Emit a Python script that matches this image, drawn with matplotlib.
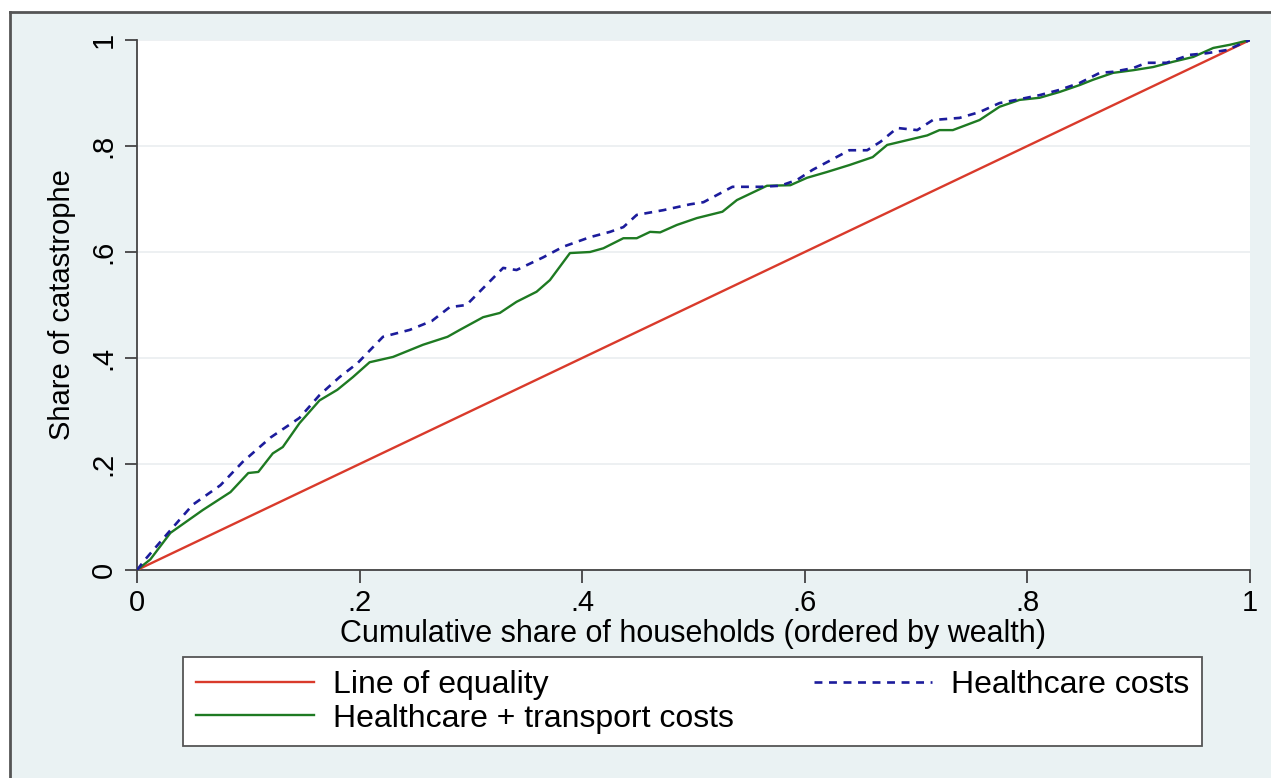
import numpy as np
import matplotlib.pyplot as plt
from matplotlib.lines import Line2D
from matplotlib.patches import Rectangle

plt.rcParams['font.family'] = ['Liberation Sans', 'DejaVu Sans']

# cumulative share of households (x) and share of catastrophe (y)
eq_x = [0, 1]
eq_y = [0, 1]

hc_x = [0, .007, .03, .05, .075, .095, .12, .146, .164, .182, .198, .221, .245, .265,
        .281, .296, .329, .341, .365, .383, .407, .425, .437, .449, .473, .497, .509,
        .535, .56, .578, .593, .607, .632, .64, .656, .668, .683, .701, .715, .739,
        .757, .775, .79, .811, .829, .847, .865, .877, .895, .907, .925, .946, .961,
        .979, 1]
hc_y = [0, .019, .075, .123, .16, .204, .25, .287, .33, .364, .39, .44, .453, .47,
        .496, .5, .57, .566, .59, .61, .628, .638, .647, .67, .679, .69, .694,
        .723, .723, .725, .736, .755, .783, .792, .792, .808, .834, .83, .849, .853,
        .864, .881, .887, .896, .906, .919, .938, .94, .947, .957, .957, .972, .975,
        .981, 1]

hct_x = [0, .012, .03, .059, .084, .1, .109, .122, .131, .146, .164, .18, .194, .209,
         .23, .257, .279, .29, .311, .326, .341, .359, .371, .389, .407, .419, .437,
         .449, .461, .47, .485, .503, .526, .539, .566, .587, .602, .62, .64, .661,
         .674, .692, .71, .721, .733, .757, .775, .793, .811, .829, .847, .859, .877,
         .895, .913, .931, .949, .967, .982, 1]
hct_y = [0, .02, .07, .113, .147, .183, .185, .22, .232, .277, .32, .34, .364, .392,
         .402, .425, .44, .453, .477, .485, .506, .525, .547, .598, .6, .607, .626,
         .626, .638, .637, .651, .664, .676, .698, .725, .726, .74, .751, .764, .779,
         .802, .811, .82, .83, .83, .849, .874, .887, .891, .902, .915, .925, .938,
         .943, .949, .959, .968, .985, .991, 1]

ticks = [0, .2, .4, .6, .8, 1]
tick_labels = ['0', '.2', '.4', '.6', '.8', '1']

W, H = 1271, 778
fig = plt.figure(figsize=(W / 100, H / 100), dpi=100, facecolor='white')

# stata-like graph region with left/top border
fig.patches.append(Rectangle((10 / W, 0), 1, 1 - 12 / H, transform=fig.transFigure,
                             facecolor='#eaf2f3', edgecolor='none', zorder=-10))
fig.lines.append(Line2D([10 / W, 10 / W], [0, 1 - 12 / H], transform=fig.transFigure,
                        color='#555555', lw=2, zorder=-5))
fig.lines.append(Line2D([10 / W, 1], [1 - 12 / H, 1 - 12 / H], transform=fig.transFigure,
                        color='#555555', lw=2, zorder=-5))

ax = fig.add_axes([137 / W, 1 - 570 / H, (1250 - 137) / W, (570 - 40) / H])
ax.set_facecolor('white')

l1, = ax.plot(eq_x, eq_y, color='#d93a2b', lw=1.7, label='Line of equality', zorder=3)
l2, = ax.plot(hct_x, hct_y, color='#1e7a22', lw=1.7, label='Healthcare + transport costs', zorder=4)
l3, = ax.plot(hc_x, hc_y, color='#1c1c9c', lw=1.9, ls=(0, (3, 2.5)), label='Healthcare costs', zorder=5)

ax.set_xlim(0, 1)
ax.set_ylim(0, 1)
ax.set_xticks(ticks)
ax.set_xticklabels(tick_labels)
ax.set_yticks(ticks)
ax.set_yticklabels(tick_labels, rotation=90, va='center')
ax.grid(axis='y', color='#eaeef0', lw=1.2)
ax.set_axisbelow(True)

for s in ['top', 'right']:
    ax.spines[s].set_visible(False)
for s in ['left', 'bottom']:
    ax.spines[s].set_color('#444444')
    ax.spines[s].set_linewidth(1.3)
ax.tick_params(direction='out', length=9, width=1.3, color='#444444',
               labelsize=21, pad=5)

ax.set_xlabel('Cumulative share of households (ordered by wealth)', fontsize=22, labelpad=1)
ax.set_ylabel('Share of catastrophe', fontsize=21, labelpad=10)

leg = fig.legend(handles=[l1, l2, l3], ncol=2, loc='upper left',
                 bbox_to_anchor=(183 / W, 1 - 657 / H, (1202 - 183) / W, 0),
                 mode='expand', fontsize=23, frameon=True, fancybox=False,
                 edgecolor='#555555', facecolor='white', framealpha=1,
                 handlelength=3.7, handletextpad=0.6, labelspacing=0.12,
                 borderpad=0.4, borderaxespad=0)
leg.get_frame().set_linewidth(1.3)

fig.savefig('out.png', dpi=100)
